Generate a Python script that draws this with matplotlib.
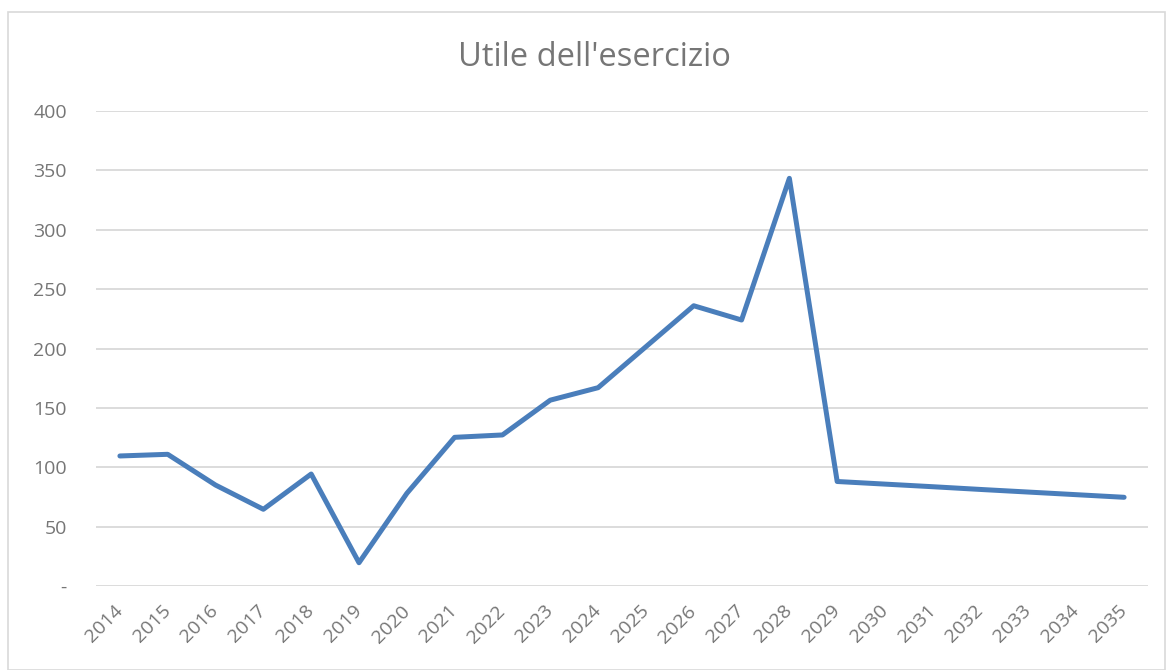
import matplotlib.pyplot as plt
from matplotlib.patches import Rectangle

# Data
anni = [str(a) for a in range(2014, 2036)]
utile = [109.5, 110.9, 85, 64.6, 94.3, 19.6, 78, 125.2, 127.2, 156.5, 167,
         201.5, 236, 224, 343.3, 88, 85.8, 83.6, 81.3, 79.1, 76.9, 74.7]
y_ticks = [0, 50, 100, 150, 200, 250, 300, 350, 400]
y_labels = ["-", "50", "100", "150", "200", "250", "300", "350", "400"]

plt.rcParams['font.family'] = ['Open Sans', 'DejaVu Sans']
grey = "#767676"

fig = plt.figure(figsize=(11.66, 6.70), dpi=100)
ax = fig.add_axes([96/1166, 1-586/670, (1148-96)/1166, (586-111)/670])

# Outer chart frame
fig.patches.append(Rectangle((8/1166, 0), 1-8/1166-0.001, 1-12/670, transform=fig.transFigure,
                             fill=False, edgecolor="#D9D9D9", linewidth=1.2))

x = list(range(len(anni)))
ax.plot(x, utile, color="#4A7EBB", linewidth=3.6, solid_joinstyle="round", solid_capstyle="round")

ax.set_xlim(-0.5, len(anni) - 0.5)
ax.set_ylim(0, 400)
ax.set_yticks(y_ticks)
ax.set_yticklabels(y_labels, color=grey, fontsize=14)
ax.set_xticks(x)
ax.set_xticklabels(anni, rotation=45, ha="right", va="center", rotation_mode="anchor",
                   color=grey, fontsize=14)
ax.tick_params(axis="y", length=0, pad=21)
ax.tick_params(axis="x", length=0, pad=16)
ax.grid(axis="y", color="#D9D9D9", linewidth=1.3)
ax.set_axisbelow(True)
for s in ax.spines.values():
    s.set_visible(False)

fig.text(594/1166, 1-57/670, "Utile dell'esercizio", ha="center", va="center", color=grey, fontsize=23.5)

plt.savefig("out.png", dpi=100)
